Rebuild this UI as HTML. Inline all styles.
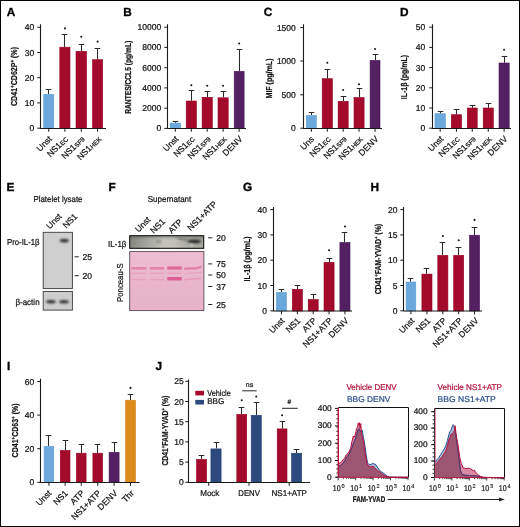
<!DOCTYPE html>
<html><head><meta charset="utf-8"><style>
html,body{margin:0;padding:0;background:#fff;}
body{width:520px;height:527px;overflow:hidden;}
svg{display:block;font-family:"Liberation Sans", sans-serif;will-change:transform;text-rendering:geometricPrecision;} text{stroke:#111;stroke-width:0.22px;} text.r{stroke:#b0123a} text.b{stroke:#2c4c8c} text.nb{stroke:none}
</style></head><body>
<svg width="520" height="527" viewBox="0 0 520 527">
<rect x="0" y="0" width="520" height="527" fill="#fff"/>
<text x="6.8" y="16" font-size="11.8" font-weight="bold" fill="#000" style="stroke:#000;stroke-width:0.35px">A</text>
<path d="M37.3 128.2H40.5" stroke="#1a1a1a" stroke-width="1"/>
<text x="34.2" y="131.2" font-size="8.5" text-anchor="end" fill="#111" font-weight="normal" >0</text>
<path d="M37.3 102.9H40.5" stroke="#1a1a1a" stroke-width="1"/>
<text x="34.2" y="105.9" font-size="8.5" text-anchor="end" fill="#111" font-weight="normal" >10</text>
<path d="M37.3 77.7H40.5" stroke="#1a1a1a" stroke-width="1"/>
<text x="34.2" y="80.7" font-size="8.5" text-anchor="end" fill="#111" font-weight="normal" >20</text>
<path d="M37.3 52.5H40.5" stroke="#1a1a1a" stroke-width="1"/>
<text x="34.2" y="55.5" font-size="8.5" text-anchor="end" fill="#111" font-weight="normal" >30</text>
<path d="M37.3 27.3H40.5" stroke="#1a1a1a" stroke-width="1"/>
<text x="34.2" y="30.3" font-size="8.5" text-anchor="end" fill="#111" font-weight="normal" >40</text>
<path d="M48.5 94.0V89.5M45.7 89.5H51.3" stroke="#2a2a2a" stroke-width="1.05" fill="none"/>
<rect x="43.699999999999996" y="94.3" width="10.100000000000003" height="34.2" fill="#6ba8dc" stroke="#5d9cd4" stroke-width="0.6"/>
<path d="M64.5 46.9V34.5M61.7 34.5H67.3" stroke="#2a2a2a" stroke-width="1.05" fill="none"/>
<rect x="59.8" y="47.199999999999996" width="10.199999999999998" height="81.3" fill="#a30a2b" stroke="#980022" stroke-width="0.6"/>
<circle cx="64.9" cy="28.400000000000002" r="1.05" fill="#1a1a1a"/>
<path d="M81.5 51.0V44.5M78.7 44.5H84.3" stroke="#2a2a2a" stroke-width="1.05" fill="none"/>
<rect x="76.0" y="51.3" width="10.499999999999995" height="77.2" fill="#a30a2b" stroke="#980022" stroke-width="0.6"/>
<circle cx="81.25" cy="36.699999999999996" r="1.05" fill="#1a1a1a"/>
<path d="M97.5 59.4V48.5M94.7 48.5H100.3" stroke="#2a2a2a" stroke-width="1.05" fill="none"/>
<rect x="92.5" y="59.699999999999996" width="10.199999999999998" height="68.8" fill="#a30a2b" stroke="#980022" stroke-width="0.6"/>
<circle cx="97.6" cy="41.599999999999994" r="1.05" fill="#1a1a1a"/>
<path d="M40.5 24.3V128.5H106" stroke="#1a1a1a" stroke-width="1.1" fill="none"/>
<path d="M48.75 128.5V131.8" stroke="#1a1a1a" stroke-width="1"/>
<path d="M64.9 128.5V131.8" stroke="#1a1a1a" stroke-width="1"/>
<path d="M81.25 128.5V131.8" stroke="#1a1a1a" stroke-width="1"/>
<path d="M97.6 128.5V131.8" stroke="#1a1a1a" stroke-width="1"/>
<text transform="translate(52.5 139.5) rotate(-45)" font-size="8.6" text-anchor="end" fill="#111">Unst</text>
<text transform="translate(68.5 139.5) rotate(-45)" font-size="8.6" text-anchor="end" fill="#111">NS1<tspan font-size="6.4" dy="0.3">EC</tspan></text>
<text transform="translate(85 139.5) rotate(-45)" font-size="8.6" text-anchor="end" fill="#111">NS1<tspan font-size="6.4" dy="0.3">SF9</tspan></text>
<text transform="translate(101.5 139.5) rotate(-45)" font-size="8.6" text-anchor="end" fill="#111">NS1<tspan font-size="6.4" dy="0.3">HEK</tspan></text>
<text transform="translate(17.4 76.5) rotate(-90)" font-size="8.6" font-weight="bold" text-anchor="middle" fill="#111" textLength="59" lengthAdjust="spacingAndGlyphs">CD41<tspan font-size="5.4" baseline-shift="2.6">+</tspan>CD62P<tspan font-size="5.4" baseline-shift="2.6">+</tspan> (%)</text>
<text x="123.3" y="16" font-size="11.8" font-weight="bold" fill="#000" style="stroke:#000;stroke-width:0.35px">B</text>
<path d="M164.3 128.4H167.5" stroke="#1a1a1a" stroke-width="1"/>
<text x="161.2" y="131.4" font-size="8.5" text-anchor="end" fill="#111" font-weight="normal" >0</text>
<path d="M164.3 108.2H167.5" stroke="#1a1a1a" stroke-width="1"/>
<text x="161.2" y="111.2" font-size="8.5" text-anchor="end" fill="#111" font-weight="normal" >2000</text>
<path d="M164.3 87.9H167.5" stroke="#1a1a1a" stroke-width="1"/>
<text x="161.2" y="90.9" font-size="8.5" text-anchor="end" fill="#111" font-weight="normal" >4000</text>
<path d="M164.3 67.7H167.5" stroke="#1a1a1a" stroke-width="1"/>
<text x="161.2" y="70.7" font-size="8.5" text-anchor="end" fill="#111" font-weight="normal" >6000</text>
<path d="M164.3 47.4H167.5" stroke="#1a1a1a" stroke-width="1"/>
<text x="161.2" y="50.4" font-size="8.5" text-anchor="end" fill="#111" font-weight="normal" >8000</text>
<path d="M164.3 27.2H167.5" stroke="#1a1a1a" stroke-width="1"/>
<text x="161.2" y="30.2" font-size="8.5" text-anchor="end" fill="#111" font-weight="normal" >10000</text>
<path d="M175.5 122.8V121.5M172.7 121.5H178.3" stroke="#2a2a2a" stroke-width="1.05" fill="none"/>
<rect x="170.10000000000002" y="123.1" width="10.4" height="5.400000000000003" fill="#6ba8dc" stroke="#5d9cd4" stroke-width="0.6"/>
<path d="M191.5 100.7V90.5M188.7 90.5H194.3" stroke="#2a2a2a" stroke-width="1.05" fill="none"/>
<rect x="186.20000000000002" y="101.0" width="10.199999999999983" height="27.499999999999996" fill="#a30a2b" stroke="#980022" stroke-width="0.6"/>
<circle cx="191.3" cy="85.3" r="1.05" fill="#1a1a1a"/>
<path d="M207.5 97.0V91.5M204.7 91.5H210.3" stroke="#2a2a2a" stroke-width="1.05" fill="none"/>
<rect x="202.10000000000002" y="97.3" width="10.199999999999983" height="31.2" fill="#a30a2b" stroke="#980022" stroke-width="0.6"/>
<circle cx="207.2" cy="85.8" r="1.05" fill="#1a1a1a"/>
<path d="M223.5 97.5V91.5M220.7 91.5H226.3" stroke="#2a2a2a" stroke-width="1.05" fill="none"/>
<rect x="218.0" y="97.8" width="10.200000000000012" height="30.7" fill="#a30a2b" stroke="#980022" stroke-width="0.6"/>
<circle cx="223.1" cy="85.8" r="1.05" fill="#1a1a1a"/>
<path d="M239.5 71.0V49.5M236.7 49.5H242.3" stroke="#2a2a2a" stroke-width="1.05" fill="none"/>
<rect x="234.20000000000002" y="71.3" width="9.9" height="57.2" fill="#532062" stroke="#4a1858" stroke-width="0.6"/>
<circle cx="239.15" cy="43.5" r="1.05" fill="#1a1a1a"/>
<path d="M167.5 24.2V128.5H246" stroke="#1a1a1a" stroke-width="1.1" fill="none"/>
<path d="M175.3 128.5V131.8" stroke="#1a1a1a" stroke-width="1"/>
<path d="M191.3 128.5V131.8" stroke="#1a1a1a" stroke-width="1"/>
<path d="M207.2 128.5V131.8" stroke="#1a1a1a" stroke-width="1"/>
<path d="M223.1 128.5V131.8" stroke="#1a1a1a" stroke-width="1"/>
<path d="M239.15 128.5V131.8" stroke="#1a1a1a" stroke-width="1"/>
<text transform="translate(179 139.5) rotate(-45)" font-size="8.6" text-anchor="end" fill="#111">Unst</text>
<text transform="translate(195 139.5) rotate(-45)" font-size="8.6" text-anchor="end" fill="#111">NS1<tspan font-size="6.4" dy="0.3">EC</tspan></text>
<text transform="translate(211 139.5) rotate(-45)" font-size="8.6" text-anchor="end" fill="#111">NS1<tspan font-size="6.4" dy="0.3">SF9</tspan></text>
<text transform="translate(227 139.5) rotate(-45)" font-size="8.6" text-anchor="end" fill="#111">NS1<tspan font-size="6.4" dy="0.3">HEK</tspan></text>
<text transform="translate(243 139.5) rotate(-45)" font-size="8.6" text-anchor="end" fill="#111">DENV</text>
<text transform="translate(131.0 77.3) rotate(-90)" font-size="8.6" font-weight="bold" text-anchor="middle" fill="#111" textLength="73" lengthAdjust="spacingAndGlyphs">RANTES/CCL5 (pg/mL)</text>
<text x="263.8" y="16" font-size="11.8" font-weight="bold" fill="#000" style="stroke:#000;stroke-width:0.35px">C</text>
<path d="M300.3 128.2H303.5" stroke="#1a1a1a" stroke-width="1"/>
<text x="295.8" y="131.2" font-size="8.5" text-anchor="end" fill="#111" font-weight="normal" >0</text>
<path d="M300.3 94.8H303.5" stroke="#1a1a1a" stroke-width="1"/>
<text x="295.8" y="97.8" font-size="8.5" text-anchor="end" fill="#111" font-weight="normal" >500</text>
<path d="M300.3 61.0H303.5" stroke="#1a1a1a" stroke-width="1"/>
<text x="295.8" y="64.0" font-size="8.5" text-anchor="end" fill="#111" font-weight="normal" >1000</text>
<path d="M300.3 27.6H303.5" stroke="#1a1a1a" stroke-width="1"/>
<text x="295.8" y="30.6" font-size="8.5" text-anchor="end" fill="#111" font-weight="normal" >1500</text>
<path d="M311.5 115.2V112.5M308.7 112.5H314.3" stroke="#2a2a2a" stroke-width="1.05" fill="none"/>
<rect x="306.40000000000003" y="115.5" width="9.9" height="12.999999999999996" fill="#6ba8dc" stroke="#5d9cd4" stroke-width="0.6"/>
<path d="M327.5 78.4V69.5M324.7 69.5H330.3" stroke="#2a2a2a" stroke-width="1.05" fill="none"/>
<rect x="322.2" y="78.7" width="10.200000000000012" height="49.8" fill="#a30a2b" stroke="#980022" stroke-width="0.6"/>
<circle cx="327.29999999999995" cy="62.8" r="1.05" fill="#1a1a1a"/>
<path d="M343.5 101.0V96.5M340.7 96.5H346.3" stroke="#2a2a2a" stroke-width="1.05" fill="none"/>
<rect x="338.1" y="101.3" width="10.099999999999989" height="27.2" fill="#a30a2b" stroke="#980022" stroke-width="0.6"/>
<circle cx="343.15" cy="90.0" r="1.05" fill="#1a1a1a"/>
<path d="M359.5 97.2V88.5M356.7 88.5H362.3" stroke="#2a2a2a" stroke-width="1.05" fill="none"/>
<rect x="354.0" y="97.5" width="10.099999999999989" height="30.999999999999996" fill="#a30a2b" stroke="#980022" stroke-width="0.6"/>
<circle cx="359.04999999999995" cy="84.3" r="1.05" fill="#1a1a1a"/>
<path d="M375.5 60.0V54.5M372.7 54.5H378.3" stroke="#2a2a2a" stroke-width="1.05" fill="none"/>
<rect x="370.1" y="60.3" width="9.9" height="68.2" fill="#532062" stroke="#4a1858" stroke-width="0.6"/>
<circle cx="375.05" cy="49.0" r="1.05" fill="#1a1a1a"/>
<path d="M303.5 24.2V128.5H382" stroke="#1a1a1a" stroke-width="1.1" fill="none"/>
<path d="M311.35 128.5V131.8" stroke="#1a1a1a" stroke-width="1"/>
<path d="M327.29999999999995 128.5V131.8" stroke="#1a1a1a" stroke-width="1"/>
<path d="M343.15 128.5V131.8" stroke="#1a1a1a" stroke-width="1"/>
<path d="M359.04999999999995 128.5V131.8" stroke="#1a1a1a" stroke-width="1"/>
<path d="M375.05 128.5V131.8" stroke="#1a1a1a" stroke-width="1"/>
<text transform="translate(314.6 139.8) rotate(-45)" font-size="8.6" text-anchor="end" fill="#111">Uns</text>
<text transform="translate(331 139.5) rotate(-45)" font-size="8.6" text-anchor="end" fill="#111">NS1<tspan font-size="6.4" dy="0.3">EC</tspan></text>
<text transform="translate(347 139.5) rotate(-45)" font-size="8.6" text-anchor="end" fill="#111">NS1<tspan font-size="6.4" dy="0.3">SF9</tspan></text>
<text transform="translate(363 139.5) rotate(-45)" font-size="8.6" text-anchor="end" fill="#111">NS1<tspan font-size="6.4" dy="0.3">HEK</tspan></text>
<text transform="translate(379 139.5) rotate(-45)" font-size="8.6" text-anchor="end" fill="#111">DENV</text>
<text transform="translate(271.7 78.5) rotate(-90)" font-size="8.6" font-weight="bold" text-anchor="middle" fill="#111" textLength="40" lengthAdjust="spacingAndGlyphs">MIF (pg/mL)</text>
<text x="400" y="16" font-size="11.8" font-weight="bold" fill="#000" style="stroke:#000;stroke-width:0.35px">D</text>
<path d="M429.3 128.2H432.5" stroke="#1a1a1a" stroke-width="1"/>
<text x="425.3" y="131.2" font-size="8.5" text-anchor="end" fill="#111" font-weight="normal" >0</text>
<path d="M429.3 108.0H432.5" stroke="#1a1a1a" stroke-width="1"/>
<text x="425.3" y="111.0" font-size="8.5" text-anchor="end" fill="#111" font-weight="normal" >10</text>
<path d="M429.3 87.8H432.5" stroke="#1a1a1a" stroke-width="1"/>
<text x="425.3" y="90.8" font-size="8.5" text-anchor="end" fill="#111" font-weight="normal" >20</text>
<path d="M429.3 67.6H432.5" stroke="#1a1a1a" stroke-width="1"/>
<text x="425.3" y="70.6" font-size="8.5" text-anchor="end" fill="#111" font-weight="normal" >30</text>
<path d="M429.3 47.4H432.5" stroke="#1a1a1a" stroke-width="1"/>
<text x="425.3" y="50.4" font-size="8.5" text-anchor="end" fill="#111" font-weight="normal" >40</text>
<path d="M429.3 27.2H432.5" stroke="#1a1a1a" stroke-width="1"/>
<text x="425.3" y="30.2" font-size="8.5" text-anchor="end" fill="#111" font-weight="normal" >50</text>
<path d="M440.5 113.4V111.5M437.7 111.5H443.3" stroke="#2a2a2a" stroke-width="1.05" fill="none"/>
<rect x="435.0" y="113.7" width="10.4" height="14.799999999999994" fill="#6ba8dc" stroke="#5d9cd4" stroke-width="0.6"/>
<path d="M456.5 114.4V109.5M453.7 109.5H459.3" stroke="#2a2a2a" stroke-width="1.05" fill="none"/>
<rect x="451.3" y="114.7" width="10.299999999999978" height="13.799999999999994" fill="#a30a2b" stroke="#980022" stroke-width="0.6"/>
<path d="M472.5 107.7V105.5M469.7 105.5H475.3" stroke="#2a2a2a" stroke-width="1.05" fill="none"/>
<rect x="467.3" y="108.0" width="9.9" height="20.499999999999996" fill="#a30a2b" stroke="#980022" stroke-width="0.6"/>
<path d="M488.5 107.7V103.5M485.7 103.5H491.3" stroke="#2a2a2a" stroke-width="1.05" fill="none"/>
<rect x="483.2" y="108.0" width="10.100000000000046" height="20.499999999999996" fill="#a30a2b" stroke="#980022" stroke-width="0.6"/>
<path d="M504.5 62.7V56.5M501.7 56.5H507.3" stroke="#2a2a2a" stroke-width="1.05" fill="none"/>
<rect x="499.0" y="63.0" width="10.200000000000012" height="65.5" fill="#532062" stroke="#4a1858" stroke-width="0.6"/>
<circle cx="504.1" cy="49.8" r="1.05" fill="#1a1a1a"/>
<path d="M432.5 24.2V128.5H511" stroke="#1a1a1a" stroke-width="1.1" fill="none"/>
<path d="M440.2 128.5V131.8" stroke="#1a1a1a" stroke-width="1"/>
<path d="M456.45 128.5V131.8" stroke="#1a1a1a" stroke-width="1"/>
<path d="M472.25 128.5V131.8" stroke="#1a1a1a" stroke-width="1"/>
<path d="M488.25 128.5V131.8" stroke="#1a1a1a" stroke-width="1"/>
<path d="M504.1 128.5V131.8" stroke="#1a1a1a" stroke-width="1"/>
<text transform="translate(444 139.5) rotate(-45)" font-size="8.6" text-anchor="end" fill="#111">Unst</text>
<text transform="translate(460 139.5) rotate(-45)" font-size="8.6" text-anchor="end" fill="#111">NS1<tspan font-size="6.4" dy="0.3">EC</tspan></text>
<text transform="translate(476 139.5) rotate(-45)" font-size="8.6" text-anchor="end" fill="#111">NS1<tspan font-size="6.4" dy="0.3">SF9</tspan></text>
<text transform="translate(492 139.5) rotate(-45)" font-size="8.6" text-anchor="end" fill="#111">NS1<tspan font-size="6.4" dy="0.3">HEK</tspan></text>
<text transform="translate(508 139.5) rotate(-45)" font-size="8.6" text-anchor="end" fill="#111">DENV</text>
<text transform="translate(407.4 77.1) rotate(-90)" font-size="8.6" font-weight="bold" text-anchor="middle" fill="#111" textLength="44.4" lengthAdjust="spacingAndGlyphs">IL-1β (pg/mL)</text>
<text x="243" y="190.6" font-size="11.8" font-weight="bold" fill="#000" style="stroke:#000;stroke-width:0.35px">G</text>
<path d="M270.3 310.8H273.5" stroke="#1a1a1a" stroke-width="1"/>
<text x="266.9" y="313.8" font-size="8.5" text-anchor="end" fill="#111" font-weight="normal" >0</text>
<path d="M270.3 285.5H273.5" stroke="#1a1a1a" stroke-width="1"/>
<text x="266.9" y="288.5" font-size="8.5" text-anchor="end" fill="#111" font-weight="normal" >10</text>
<path d="M270.3 260.2H273.5" stroke="#1a1a1a" stroke-width="1"/>
<text x="266.9" y="263.2" font-size="8.5" text-anchor="end" fill="#111" font-weight="normal" >20</text>
<path d="M270.3 234.9H273.5" stroke="#1a1a1a" stroke-width="1"/>
<text x="266.9" y="237.9" font-size="8.5" text-anchor="end" fill="#111" font-weight="normal" >30</text>
<path d="M270.3 209.6H273.5" stroke="#1a1a1a" stroke-width="1"/>
<text x="266.9" y="212.6" font-size="8.5" text-anchor="end" fill="#111" font-weight="normal" >40</text>
<path d="M281.5 292.0V289.5M278.7 289.5H284.3" stroke="#2a2a2a" stroke-width="1.05" fill="none"/>
<rect x="276.40000000000003" y="292.3" width="10.099999999999989" height="18.7" fill="#6ba8dc" stroke="#5d9cd4" stroke-width="0.6"/>
<path d="M297.5 289.0V285.5M294.7 285.5H300.3" stroke="#2a2a2a" stroke-width="1.05" fill="none"/>
<rect x="292.3" y="289.3" width="10.099999999999989" height="21.7" fill="#a30a2b" stroke="#980022" stroke-width="0.6"/>
<path d="M313.5 299.2V294.5M310.7 294.5H316.3" stroke="#2a2a2a" stroke-width="1.05" fill="none"/>
<rect x="308.2" y="299.5" width="10.000000000000023" height="11.50000000000001" fill="#a30a2b" stroke="#980022" stroke-width="0.6"/>
<path d="M329.5 262.0V258.5M326.7 258.5H332.3" stroke="#2a2a2a" stroke-width="1.05" fill="none"/>
<rect x="324.0" y="262.3" width="10.099999999999989" height="48.7" fill="#a30a2b" stroke="#980022" stroke-width="0.6"/>
<circle cx="329.04999999999995" cy="250.20000000000002" r="1.05" fill="#1a1a1a"/>
<path d="M344.5 242.1V232.5M341.7 232.5H347.3" stroke="#2a2a2a" stroke-width="1.05" fill="none"/>
<rect x="339.90000000000003" y="242.4" width="10.099999999999989" height="68.60000000000001" fill="#532062" stroke="#4a1858" stroke-width="0.6"/>
<circle cx="344.95000000000005" cy="226.5" r="1.05" fill="#1a1a1a"/>
<path d="M273.5 206.9V311.0H352" stroke="#1a1a1a" stroke-width="1.1" fill="none"/>
<path d="M281.45000000000005 311.0V314.3" stroke="#1a1a1a" stroke-width="1"/>
<path d="M297.35 311.0V314.3" stroke="#1a1a1a" stroke-width="1"/>
<path d="M313.2 311.0V314.3" stroke="#1a1a1a" stroke-width="1"/>
<path d="M329.04999999999995 311.0V314.3" stroke="#1a1a1a" stroke-width="1"/>
<path d="M344.95000000000005 311.0V314.3" stroke="#1a1a1a" stroke-width="1"/>
<text transform="translate(285 321.3) rotate(-45)" font-size="8.6" text-anchor="end" fill="#111">Unst</text>
<text transform="translate(301 321.3) rotate(-45)" font-size="8.6" text-anchor="end" fill="#111">NS1</text>
<text transform="translate(317 321.3) rotate(-45)" font-size="8.6" text-anchor="end" fill="#111">ATP</text>
<text transform="translate(333 321.3) rotate(-45)" font-size="8.6" text-anchor="end" fill="#111">NS1+ATP</text>
<text transform="translate(349 321.3) rotate(-45)" font-size="8.6" text-anchor="end" fill="#111">DENV</text>
<text transform="translate(250.0 258.9) rotate(-90)" font-size="8.6" font-weight="bold" text-anchor="middle" fill="#111" textLength="45" lengthAdjust="spacingAndGlyphs">IL-1β (pg/mL)</text>
<text x="370.5" y="190.6" font-size="11.8" font-weight="bold" fill="#000" style="stroke:#000;stroke-width:0.35px">H</text>
<path d="M400.3 310.8H403.5" stroke="#1a1a1a" stroke-width="1"/>
<text x="397.4" y="313.8" font-size="8.5" text-anchor="end" fill="#111" font-weight="normal" >0</text>
<path d="M400.3 285.5H403.5" stroke="#1a1a1a" stroke-width="1"/>
<text x="397.4" y="288.5" font-size="8.5" text-anchor="end" fill="#111" font-weight="normal" >5</text>
<path d="M400.3 260.2H403.5" stroke="#1a1a1a" stroke-width="1"/>
<text x="397.4" y="263.2" font-size="8.5" text-anchor="end" fill="#111" font-weight="normal" >10</text>
<path d="M400.3 234.9H403.5" stroke="#1a1a1a" stroke-width="1"/>
<text x="397.4" y="237.9" font-size="8.5" text-anchor="end" fill="#111" font-weight="normal" >15</text>
<path d="M400.3 209.6H403.5" stroke="#1a1a1a" stroke-width="1"/>
<text x="397.4" y="212.6" font-size="8.5" text-anchor="end" fill="#111" font-weight="normal" >20</text>
<path d="M410.5 281.7V278.5M407.7 278.5H413.3" stroke="#2a2a2a" stroke-width="1.05" fill="none"/>
<rect x="406.1" y="282.0" width="9.700000000000012" height="29.00000000000001" fill="#6ba8dc" stroke="#5d9cd4" stroke-width="0.6"/>
<path d="M426.5 273.8V268.5M423.7 268.5H429.3" stroke="#2a2a2a" stroke-width="1.05" fill="none"/>
<rect x="421.90000000000003" y="274.1" width="10.099999999999989" height="36.89999999999999" fill="#a30a2b" stroke="#980022" stroke-width="0.6"/>
<path d="M442.5 255.1V242.5M439.7 242.5H445.3" stroke="#2a2a2a" stroke-width="1.05" fill="none"/>
<rect x="437.8" y="255.4" width="10.099999999999989" height="55.60000000000001" fill="#a30a2b" stroke="#980022" stroke-width="0.6"/>
<circle cx="442.85" cy="236.10000000000002" r="1.05" fill="#1a1a1a"/>
<path d="M458.5 255.1V247.5M455.7 247.5H461.3" stroke="#2a2a2a" stroke-width="1.05" fill="none"/>
<rect x="453.7" y="255.4" width="10.000000000000023" height="55.60000000000001" fill="#a30a2b" stroke="#980022" stroke-width="0.6"/>
<circle cx="458.7" cy="240.3" r="1.05" fill="#1a1a1a"/>
<path d="M474.5 234.9V227.5M471.7 227.5H477.3" stroke="#2a2a2a" stroke-width="1.05" fill="none"/>
<rect x="469.5" y="235.20000000000002" width="10.099999999999989" height="75.8" fill="#532062" stroke="#4a1858" stroke-width="0.6"/>
<circle cx="474.54999999999995" cy="219.9" r="1.05" fill="#1a1a1a"/>
<path d="M403.5 206.9V311.0H482" stroke="#1a1a1a" stroke-width="1.1" fill="none"/>
<path d="M410.95000000000005 311.0V314.3" stroke="#1a1a1a" stroke-width="1"/>
<path d="M426.95000000000005 311.0V314.3" stroke="#1a1a1a" stroke-width="1"/>
<path d="M442.85 311.0V314.3" stroke="#1a1a1a" stroke-width="1"/>
<path d="M458.7 311.0V314.3" stroke="#1a1a1a" stroke-width="1"/>
<path d="M474.54999999999995 311.0V314.3" stroke="#1a1a1a" stroke-width="1"/>
<text transform="translate(415 321.3) rotate(-45)" font-size="8.6" text-anchor="end" fill="#111">Unst</text>
<text transform="translate(431 321.3) rotate(-45)" font-size="8.6" text-anchor="end" fill="#111">NS1</text>
<text transform="translate(447 321.3) rotate(-45)" font-size="8.6" text-anchor="end" fill="#111">ATP</text>
<text transform="translate(463 321.3) rotate(-45)" font-size="8.6" text-anchor="end" fill="#111">NS1+ATP</text>
<text transform="translate(479 321.3) rotate(-45)" font-size="8.6" text-anchor="end" fill="#111">DENV</text>
<text transform="translate(381.0 259.1) rotate(-90)" font-size="8.6" font-weight="bold" text-anchor="middle" fill="#111" textLength="70.5" lengthAdjust="spacingAndGlyphs">CD41<tspan font-size="5.4" baseline-shift="2.6">+</tspan>FAM-YVAD<tspan font-size="5.4" baseline-shift="2.6">+</tspan> (%)</text>
<text x="7" y="370" font-size="11.8" font-weight="bold" fill="#000" style="stroke:#000;stroke-width:0.35px">I</text>
<path d="M37.3 482.3H40.5" stroke="#1a1a1a" stroke-width="1"/>
<text x="34.2" y="485.3" font-size="8.5" text-anchor="end" fill="#111" font-weight="normal" >0</text>
<path d="M37.3 448.7H40.5" stroke="#1a1a1a" stroke-width="1"/>
<text x="34.2" y="451.7" font-size="8.5" text-anchor="end" fill="#111" font-weight="normal" >20</text>
<path d="M37.3 415.1H40.5" stroke="#1a1a1a" stroke-width="1"/>
<text x="34.2" y="418.1" font-size="8.5" text-anchor="end" fill="#111" font-weight="normal" >40</text>
<path d="M37.3 381.5H40.5" stroke="#1a1a1a" stroke-width="1"/>
<text x="34.2" y="384.5" font-size="8.5" text-anchor="end" fill="#111" font-weight="normal" >60</text>
<path d="M48.5 446.2V435.5M45.7 435.5H51.3" stroke="#2a2a2a" stroke-width="1.05" fill="none"/>
<rect x="44.099999999999994" y="446.5" width="9.700000000000005" height="36.000000000000014" fill="#6ba8dc" stroke="#5d9cd4" stroke-width="0.6"/>
<path d="M65.5 450.1V440.5M62.7 440.5H68.3" stroke="#2a2a2a" stroke-width="1.05" fill="none"/>
<rect x="60.3" y="450.40000000000003" width="9.699999999999998" height="32.09999999999998" fill="#a30a2b" stroke="#980022" stroke-width="0.6"/>
<path d="M81.5 452.9V444.5M78.7 444.5H84.3" stroke="#2a2a2a" stroke-width="1.05" fill="none"/>
<rect x="76.39999999999999" y="453.2" width="9.700000000000012" height="29.300000000000022" fill="#a30a2b" stroke="#980022" stroke-width="0.6"/>
<path d="M97.5 452.9V444.5M94.7 444.5H100.3" stroke="#2a2a2a" stroke-width="1.05" fill="none"/>
<rect x="92.89999999999999" y="453.2" width="9.700000000000012" height="29.300000000000022" fill="#a30a2b" stroke="#980022" stroke-width="0.6"/>
<path d="M114.5 452.0V442.5M111.7 442.5H117.3" stroke="#2a2a2a" stroke-width="1.05" fill="none"/>
<rect x="109.1" y="452.3" width="10.000000000000009" height="30.2" fill="#532062" stroke="#4a1858" stroke-width="0.6"/>
<path d="M130.5 399.9V394.5M127.7 394.5H133.3" stroke="#2a2a2a" stroke-width="1.05" fill="none"/>
<rect x="125.5" y="400.2" width="10.000000000000009" height="82.30000000000003" fill="#dc8a1a" stroke="#d4801a" stroke-width="0.6"/>
<circle cx="130.5" cy="387.90000000000003" r="1.05" fill="#1a1a1a"/>
<path d="M40.5 378.7V482.5H139.5" stroke="#1a1a1a" stroke-width="1.1" fill="none"/>
<path d="M48.95 482.5V485.8" stroke="#1a1a1a" stroke-width="1"/>
<path d="M65.15 482.5V485.8" stroke="#1a1a1a" stroke-width="1"/>
<path d="M81.25 482.5V485.8" stroke="#1a1a1a" stroke-width="1"/>
<path d="M97.75 482.5V485.8" stroke="#1a1a1a" stroke-width="1"/>
<path d="M114.1 482.5V485.8" stroke="#1a1a1a" stroke-width="1"/>
<path d="M130.5 482.5V485.8" stroke="#1a1a1a" stroke-width="1"/>
<text transform="translate(52 493.8) rotate(-45)" font-size="8.6" text-anchor="end" fill="#111">Unst</text>
<text transform="translate(68.5 493.8) rotate(-45)" font-size="8.6" text-anchor="end" fill="#111">NS1</text>
<text transform="translate(85 493.8) rotate(-45)" font-size="8.6" text-anchor="end" fill="#111">ATP</text>
<text transform="translate(101.5 493.8) rotate(-45)" font-size="8.6" text-anchor="end" fill="#111">NS1+ATP</text>
<text transform="translate(118 493.8) rotate(-45)" font-size="8.6" text-anchor="end" fill="#111">DENV</text>
<text transform="translate(134.5 493.8) rotate(-45)" font-size="8.6" text-anchor="end" fill="#111">Thr</text>
<text transform="translate(17.9 430.4) rotate(-90)" font-size="8.6" font-weight="bold" text-anchor="middle" fill="#111" textLength="54" lengthAdjust="spacingAndGlyphs">CD41<tspan font-size="5.4" baseline-shift="2.6">+</tspan>CD63<tspan font-size="5.4" baseline-shift="2.6">+</tspan> (%)</text>
<text x="155.5" y="370" font-size="11.8" font-weight="bold" fill="#000" style="stroke:#000;stroke-width:0.35px">J</text>
<path d="M185.3 482.3H188.5" stroke="#1a1a1a" stroke-width="1"/>
<text x="183.7" y="485.3" font-size="8.5" text-anchor="end" fill="#111" font-weight="normal" >0</text>
<path d="M185.3 462.1H188.5" stroke="#1a1a1a" stroke-width="1"/>
<text x="183.7" y="465.1" font-size="8.5" text-anchor="end" fill="#111" font-weight="normal" >5</text>
<path d="M185.3 441.9H188.5" stroke="#1a1a1a" stroke-width="1"/>
<text x="183.7" y="444.9" font-size="8.5" text-anchor="end" fill="#111" font-weight="normal" >10</text>
<path d="M185.3 421.7H188.5" stroke="#1a1a1a" stroke-width="1"/>
<text x="183.7" y="424.7" font-size="8.5" text-anchor="end" fill="#111" font-weight="normal" >15</text>
<path d="M185.3 401.5H188.5" stroke="#1a1a1a" stroke-width="1"/>
<text x="183.7" y="404.5" font-size="8.5" text-anchor="end" fill="#111" font-weight="normal" >20</text>
<path d="M185.3 381.3H188.5" stroke="#1a1a1a" stroke-width="1"/>
<text x="183.7" y="384.3" font-size="8.5" text-anchor="end" fill="#111" font-weight="normal" >25</text>
<path d="M201.5 459.1V455.5M198.7 455.5H204.3" stroke="#2a2a2a" stroke-width="1.05" fill="none"/>
<rect x="196.5" y="459.40000000000003" width="10.100000000000017" height="23.099999999999977" fill="#a30a2b" stroke="#980022" stroke-width="0.6"/>
<path d="M216.5 448.6V442.5M213.7 442.5H219.3" stroke="#2a2a2a" stroke-width="1.05" fill="none"/>
<rect x="210.9" y="448.90000000000003" width="10.200000000000012" height="33.59999999999998" fill="#2d4a7e" stroke="#27427a" stroke-width="0.6"/>
<path d="M241.5 414.1V407.5M238.7 407.5H244.3" stroke="#2a2a2a" stroke-width="1.05" fill="none"/>
<rect x="236.8" y="414.40000000000003" width="9.9" height="68.09999999999998" fill="#a30a2b" stroke="#980022" stroke-width="0.6"/>
<circle cx="241.75" cy="400.3" r="1.05" fill="#1a1a1a"/>
<path d="M256.5 415.0V402.5M253.7 402.5H259.3" stroke="#2a2a2a" stroke-width="1.05" fill="none"/>
<rect x="251.20000000000002" y="415.3" width="10.100000000000017" height="67.2" fill="#2d4a7e" stroke="#27427a" stroke-width="0.6"/>
<circle cx="256.25" cy="396.5" r="1.05" fill="#1a1a1a"/>
<path d="M282.5 428.6V421.5M279.7 421.5H285.3" stroke="#2a2a2a" stroke-width="1.05" fill="none"/>
<rect x="277.2" y="428.90000000000003" width="9.800000000000034" height="53.59999999999998" fill="#a30a2b" stroke="#980022" stroke-width="0.6"/>
<circle cx="282.1" cy="415.3" r="1.05" fill="#1a1a1a"/>
<path d="M296.5 452.9V449.5M293.7 449.5H299.3" stroke="#2a2a2a" stroke-width="1.05" fill="none"/>
<rect x="291.5" y="453.2" width="10.200000000000012" height="29.300000000000022" fill="#2d4a7e" stroke="#27427a" stroke-width="0.6"/>
<path d="M188.5 379.5V482.5H310" stroke="#1a1a1a" stroke-width="1.1" fill="none"/>
<path d="M208.7 482.5V485.8" stroke="#1a1a1a" stroke-width="1"/>
<path d="M249.0 482.5V485.8" stroke="#1a1a1a" stroke-width="1"/>
<path d="M289.2 482.5V485.8" stroke="#1a1a1a" stroke-width="1"/>
<text transform="translate(167.5 430.6) rotate(-90)" font-size="8.6" font-weight="bold" text-anchor="middle" fill="#111" textLength="70" lengthAdjust="spacingAndGlyphs">CD41<tspan font-size="5.4" baseline-shift="2.6">+</tspan>FAM-YVAD<tspan font-size="5.4" baseline-shift="2.6">+</tspan> (%)</text>
<text x="209.8" y="495.9" font-size="8.4" text-anchor="middle" fill="#111" font-weight="normal" textLength="19.2" lengthAdjust="spacingAndGlyphs" >Mock</text>
<text x="249.1" y="495.9" font-size="8.4" text-anchor="middle" fill="#111" font-weight="normal" textLength="21.6" lengthAdjust="spacingAndGlyphs" >DENV</text>
<text x="289.2" y="495.9" font-size="8.4" text-anchor="middle" fill="#111" font-weight="normal" textLength="35.6" lengthAdjust="spacingAndGlyphs" >NS1+ATP</text>
<rect x="195.3" y="390.8" width="8.7" height="4.6" fill="#a30a2b"/>
<rect x="195.3" y="399.9" width="8.7" height="4.6" fill="#2d4a7e"/>
<text x="207.2" y="395.7" font-size="8.4" text-anchor="start" fill="#111" font-weight="normal" textLength="23.6" lengthAdjust="spacingAndGlyphs" >Vehicle</text>
<text x="207.2" y="404.3" font-size="8.4" text-anchor="start" fill="#111" font-weight="normal" textLength="17.2" lengthAdjust="spacingAndGlyphs" >BBG</text>
<path d="M242.3 390.8H256.7M282.1 408.3H297.6" stroke="#222" stroke-width="1"/>
<text x="249.5" y="387" font-size="7" text-anchor="middle" fill="#111" font-weight="normal" >ns</text>
<text x="289.3" y="403.8" font-size="6.5" text-anchor="middle" fill="#111" font-weight="normal" >#</text>
<text x="6.6" y="190.6" font-size="11.8" font-weight="bold" fill="#000" style="stroke:#000;stroke-width:0.35px">E</text>
<text x="58" y="201.9" font-size="8.6" text-anchor="middle" fill="#111" font-weight="normal" textLength="49" lengthAdjust="spacingAndGlyphs" >Platelet lysate</text>
<text transform="translate(62.3 217) rotate(-45)" font-size="8.6" text-anchor="end" fill="#111">Unst</text>
<text transform="translate(78.0 217) rotate(-45)" font-size="8.6" text-anchor="end" fill="#111">NS1</text>
<defs><filter id="bl1" x="-20%" y="-50%" width="140%" height="200%"><feGaussianBlur stdDeviation="0.9"/></filter><filter id="bl4" x="-20%" y="-100%" width="140%" height="300%"><feGaussianBlur stdDeviation="0.7 0.6"/></filter><linearGradient id="png" x1="0" x2="0" y1="0" y2="1"><stop offset="0" stop-color="#efbcd1"/><stop offset="0.45" stop-color="#eab6cc"/><stop offset="1" stop-color="#e5b2c8"/></linearGradient><filter id="bl2" x="-20%" y="-50%" width="140%" height="200%"><feGaussianBlur stdDeviation="0.6"/></filter><filter id="bl3" x="-50%" y="-100%" width="200%" height="300%"><feGaussianBlur stdDeviation="1.0 0.8"/></filter><linearGradient id="ilg" x1="0" x2="1" y1="0" y2="0"><stop offset="0" stop-color="#85857f"/><stop offset="0.15" stop-color="#9b9b95"/><stop offset="0.32" stop-color="#b3b3ac"/><stop offset="0.47" stop-color="#c6c6bf"/><stop offset="0.6" stop-color="#c2c2ba"/><stop offset="0.78" stop-color="#adada5"/><stop offset="1" stop-color="#a6a69e"/></linearGradient><linearGradient id="ilv" x1="0" x2="0" y1="0" y2="1"><stop offset="0" stop-color="#000" stop-opacity="0.22"/><stop offset="0.35" stop-color="#000" stop-opacity="0"/><stop offset="1" stop-color="#fff" stop-opacity="0.05"/></linearGradient></defs>
<rect x="43.2" y="232.3" width="29.2" height="56.3" fill="#cfcfcf" stroke="#3a3a3a" stroke-width="0.9"/>
<rect x="43.2" y="291.5" width="29.2" height="18.6" fill="#cdcdcd" stroke="#3a3a3a" stroke-width="0.9"/>
<ellipse cx="64.3" cy="240.6" rx="4.6" ry="1.9" fill="#333" filter="url(#bl3)"/>
<ellipse cx="50.9" cy="301.8" rx="4.9" ry="1.7" fill="#333" filter="url(#bl3)"/>
<ellipse cx="64.0" cy="301.8" rx="4.9" ry="1.7" fill="#333" filter="url(#bl3)"/>
<text x="39.6" y="244.5" font-size="8.6" text-anchor="end" fill="#111" font-weight="normal" textLength="32.6" lengthAdjust="spacingAndGlyphs" >Pro-IL-1β</text>
<text x="39.6" y="304.5" font-size="8.6" text-anchor="end" fill="#111" font-weight="normal" textLength="24.2" lengthAdjust="spacingAndGlyphs" >β-actin</text>
<path d="M74.6 256.8H78.8M74.6 275.7H78.8" stroke="#222" stroke-width="1"/>
<text x="82.4" y="259.9" font-size="8.6" text-anchor="start" fill="#111" font-weight="normal" >25</text>
<text x="82.4" y="278.8" font-size="8.6" text-anchor="start" fill="#111" font-weight="normal" >20</text>
<text x="108.6" y="190.6" font-size="11.8" font-weight="bold" fill="#000" style="stroke:#000;stroke-width:0.35px">F</text>
<text x="169.5" y="201.9" font-size="8.6" text-anchor="middle" fill="#111" font-weight="normal" textLength="43.6" lengthAdjust="spacingAndGlyphs" >Supernatant</text>
<text transform="translate(151.0 220.3) rotate(-45)" font-size="8.6" text-anchor="end" fill="#111">Unst</text>
<text transform="translate(165.6 222.2) rotate(-45)" font-size="8.6" text-anchor="end" fill="#111">NS1</text>
<text transform="translate(183.0 222.6) rotate(-45)" font-size="8.6" text-anchor="end" fill="#111">ATP</text>
<text transform="translate(217.6 204.6) rotate(-45)" font-size="8.6" text-anchor="end" fill="#111">NS1+ATP</text>
<rect x="129.7" y="235.7" width="74" height="12.6" fill="url(#ilg)" stroke="#2a2a2a" stroke-width="0.9"/>
<rect x="129.7" y="235.7" width="74" height="12.6" fill="url(#ilv)"/>
<path d="M175 236.4L184 238.0L189 240.0L186 241.0L179 239.4Z" fill="#7a7a74" filter="url(#bl3)"/>
<ellipse cx="194.3" cy="241.3" rx="6.8" ry="1.9" fill="#2a2a2a" filter="url(#bl3)"/>
<ellipse cx="191.6" cy="245.0" rx="1.8" ry="1.2" fill="#d0d0c8" filter="url(#bl3)"/>
<ellipse cx="158.5" cy="241.4" rx="3" ry="1" fill="#7a7a76" filter="url(#bl3)"/>
<rect x="129.7" y="235.7" width="74" height="12.6" fill="none" stroke="#222" stroke-width="0.9"/>
<text x="126.4" y="246.6" font-size="8.6" text-anchor="end" fill="#111" font-weight="normal" textLength="18.3" lengthAdjust="spacingAndGlyphs" >IL-1β</text>
<rect x="129.7" y="251.6" width="74.2" height="59" fill="url(#png)" stroke="#5a4a52" stroke-width="0.9"/>
<rect x="131.3" y="267.0" width="15.199999999999989" height="2.6" fill="#e184aa" filter="url(#bl4)"/>
<rect x="131.3" y="272.6" width="15.199999999999989" height="1.4" fill="#e8a2be" filter="url(#bl4)"/>
<rect x="131.3" y="278.9" width="15.199999999999989" height="1.4" fill="#e8a2be" filter="url(#bl4)"/>
<rect x="149.8" y="267.0" width="14.199999999999989" height="2.6" fill="#e184aa" filter="url(#bl4)"/>
<rect x="149.8" y="272.6" width="14.199999999999989" height="1.4" fill="#e8a2be" filter="url(#bl4)"/>
<rect x="149.8" y="278.9" width="14.199999999999989" height="1.4" fill="#e8a2be" filter="url(#bl4)"/>
<rect x="167.3" y="266.7" width="14.399999999999977" height="2.6" fill="#e184aa" filter="url(#bl4)"/>
<rect x="167.3" y="272.6" width="14.399999999999977" height="1.4" fill="#e8a2be" filter="url(#bl4)"/>
<rect x="167.3" y="278.9" width="14.399999999999977" height="1.4" fill="#e8a2be" filter="url(#bl4)"/>
<path d="M184.2 267.6L196.5 267.0L201.5 265.4V267.8L196.5 269.4L184.2 270.0Z" fill="#e184aa" filter="url(#bl4)"/>
<path d="M184.2 273.0L201.5 271.8V273.0L184.2 274.2Z" fill="#e8a2be" filter="url(#bl4)"/>
<path d="M184.2 279.0L201.5 277.6V279.0L184.2 280.4Z" fill="#e69bba" filter="url(#bl4)"/>
<rect x="167.3" y="277.0" width="14.4" height="3.4" fill="#d95e95" filter="url(#bl4)"/>
<rect x="167.3" y="266.5" width="14.4" height="3.0" fill="#dd6a99" filter="url(#bl4)"/>
<text transform="translate(122.6 282.7) rotate(-90)" font-size="8.6" text-anchor="middle" fill="#111" textLength="38.6" lengthAdjust="spacingAndGlyphs">Ponceau-S</text>
<path d="M208.1 237.8H212.3" stroke="#222" stroke-width="1"/>
<text x="216.2" y="240.8" font-size="8.6" text-anchor="start" fill="#111" font-weight="normal" >20</text>
<path d="M208.1 263.9H212.3" stroke="#222" stroke-width="1"/>
<text x="216.2" y="266.9" font-size="8.6" text-anchor="start" fill="#111" font-weight="normal" >75</text>
<path d="M208.1 275.0H212.3" stroke="#222" stroke-width="1"/>
<text x="216.2" y="278.0" font-size="8.6" text-anchor="start" fill="#111" font-weight="normal" >50</text>
<path d="M208.1 286.5H212.3" stroke="#222" stroke-width="1"/>
<text x="216.2" y="289.5" font-size="8.6" text-anchor="start" fill="#111" font-weight="normal" >37</text>
<path d="M208.1 304.5H212.3" stroke="#222" stroke-width="1"/>
<text x="216.2" y="307.5" font-size="8.6" text-anchor="start" fill="#111" font-weight="normal" >25</text>
<path d="M334.90000000000003 477.2H338.3" stroke="#111" stroke-width="1"/>
<text x="331.7" y="479.5" font-size="8.3" text-anchor="end" fill="#111">0</text>
<path d="M334.90000000000003 460.5H338.3" stroke="#111" stroke-width="1"/>
<text x="331.7" y="462.8" font-size="8.3" text-anchor="end" fill="#111">100</text>
<path d="M334.90000000000003 443.2H338.3" stroke="#111" stroke-width="1"/>
<text x="331.7" y="445.5" font-size="8.3" text-anchor="end" fill="#111">200</text>
<path d="M334.90000000000003 425.9H338.3" stroke="#111" stroke-width="1"/>
<text x="331.7" y="428.2" font-size="8.3" text-anchor="end" fill="#111">300</text>
<path d="M334.90000000000003 408.4H338.3" stroke="#111" stroke-width="1"/>
<text x="331.7" y="410.7" font-size="8.3" text-anchor="end" fill="#111">400</text>
<path d="M336.3 477.20H338.3" stroke="#111" stroke-width="0.9"/>
<path d="M336.3 473.02H338.3" stroke="#111" stroke-width="0.9"/>
<path d="M336.3 468.85H338.3" stroke="#111" stroke-width="0.9"/>
<path d="M336.3 464.67H338.3" stroke="#111" stroke-width="0.9"/>
<path d="M336.3 460.50H338.3" stroke="#111" stroke-width="0.9"/>
<path d="M336.3 456.32H338.3" stroke="#111" stroke-width="0.9"/>
<path d="M336.3 452.15H338.3" stroke="#111" stroke-width="0.9"/>
<path d="M336.3 447.97H338.3" stroke="#111" stroke-width="0.9"/>
<path d="M336.3 443.80H338.3" stroke="#111" stroke-width="0.9"/>
<path d="M336.3 439.62H338.3" stroke="#111" stroke-width="0.9"/>
<path d="M336.3 435.45H338.3" stroke="#111" stroke-width="0.9"/>
<path d="M336.3 431.27H338.3" stroke="#111" stroke-width="0.9"/>
<path d="M336.3 427.10H338.3" stroke="#111" stroke-width="0.9"/>
<path d="M336.3 422.92H338.3" stroke="#111" stroke-width="0.9"/>
<path d="M336.3 418.75H338.3" stroke="#111" stroke-width="0.9"/>
<path d="M336.3 414.57H338.3" stroke="#111" stroke-width="0.9"/>
<path d="M336.3 410.40H338.3" stroke="#111" stroke-width="0.9"/>
<path d="M338.20 477.3V480.3" stroke="#111" stroke-width="0.8"/>
<path d="M343.45 477.3V478.90000000000003" stroke="#111" stroke-width="0.8"/>
<path d="M346.53 477.3V478.90000000000003" stroke="#111" stroke-width="0.8"/>
<path d="M348.71 477.3V478.90000000000003" stroke="#111" stroke-width="0.8"/>
<path d="M350.40 477.3V478.90000000000003" stroke="#111" stroke-width="0.8"/>
<path d="M351.78 477.3V478.90000000000003" stroke="#111" stroke-width="0.8"/>
<path d="M352.95 477.3V478.90000000000003" stroke="#111" stroke-width="0.8"/>
<path d="M353.96 477.3V478.90000000000003" stroke="#111" stroke-width="0.8"/>
<path d="M354.85 477.3V478.90000000000003" stroke="#111" stroke-width="0.8"/>
<path d="M355.65 477.3V480.3" stroke="#111" stroke-width="0.8"/>
<path d="M360.90 477.3V478.90000000000003" stroke="#111" stroke-width="0.8"/>
<path d="M363.98 477.3V478.90000000000003" stroke="#111" stroke-width="0.8"/>
<path d="M366.16 477.3V478.90000000000003" stroke="#111" stroke-width="0.8"/>
<path d="M367.85 477.3V478.90000000000003" stroke="#111" stroke-width="0.8"/>
<path d="M369.23 477.3V478.90000000000003" stroke="#111" stroke-width="0.8"/>
<path d="M370.40 477.3V478.90000000000003" stroke="#111" stroke-width="0.8"/>
<path d="M371.41 477.3V478.90000000000003" stroke="#111" stroke-width="0.8"/>
<path d="M372.30 477.3V478.90000000000003" stroke="#111" stroke-width="0.8"/>
<path d="M373.10 477.3V480.3" stroke="#111" stroke-width="0.8"/>
<path d="M378.35 477.3V478.90000000000003" stroke="#111" stroke-width="0.8"/>
<path d="M381.43 477.3V478.90000000000003" stroke="#111" stroke-width="0.8"/>
<path d="M383.61 477.3V478.90000000000003" stroke="#111" stroke-width="0.8"/>
<path d="M385.30 477.3V478.90000000000003" stroke="#111" stroke-width="0.8"/>
<path d="M386.68 477.3V478.90000000000003" stroke="#111" stroke-width="0.8"/>
<path d="M387.85 477.3V478.90000000000003" stroke="#111" stroke-width="0.8"/>
<path d="M388.86 477.3V478.90000000000003" stroke="#111" stroke-width="0.8"/>
<path d="M389.75 477.3V478.90000000000003" stroke="#111" stroke-width="0.8"/>
<path d="M390.55 477.3V480.3" stroke="#111" stroke-width="0.8"/>
<path d="M395.80 477.3V478.90000000000003" stroke="#111" stroke-width="0.8"/>
<path d="M398.88 477.3V478.90000000000003" stroke="#111" stroke-width="0.8"/>
<path d="M401.06 477.3V478.90000000000003" stroke="#111" stroke-width="0.8"/>
<path d="M402.75 477.3V478.90000000000003" stroke="#111" stroke-width="0.8"/>
<path d="M404.13 477.3V478.90000000000003" stroke="#111" stroke-width="0.8"/>
<path d="M405.30 477.3V478.90000000000003" stroke="#111" stroke-width="0.8"/>
<path d="M406.31 477.3V478.90000000000003" stroke="#111" stroke-width="0.8"/>
<path d="M407.20 477.3V478.90000000000003" stroke="#111" stroke-width="0.8"/>
<path d="M408.00 477.3V480.3" stroke="#111" stroke-width="0.8"/>
<clipPath id="c338b"><path d="M338.3 477.3L339 466.2L341.1 465.2L343.2 463.1L345.2 460L347.3 456.5L349.3 453.4L351.4 448.8L353.4 443.6L355.5 438.5L357 433.4L358 429.8L359.1 428.8L360.1 431.3L361.6 430.8L362.4 430.3L363.2 436.5L364.2 441.1L365.2 447.7L366.2 454.9L367.5 462.9L369.4 464.8L371.2 464.3L372.6 463.4L374 463.8L375.9 464.8L377.2 467.1L379.1 469.4L380.9 471.7L382.8 472.6L385.1 474.5L387.4 476.3L389.7 477.1L408.2 477.3L408.5 477.3Z"/></clipPath><clipPath id="c338r"><path d="M338.3 477.3L338.5 463.1L340.1 463.1L341.6 461.6L343.2 459.5L344.7 458L346.2 454.9L347.8 453.4L349.3 451.3L350.8 447.7L351.9 441.6L352.4 440L353.2 436L353.9 437L355 436L356 431.3L356.5 428.3L357.5 427.2L358.2 423.1L358.8 425.2L359.4 422.6L360.1 428.3L360.8 423.6L361.4 432.4L362.6 437.5L363.7 443.6L364.7 450.8L365.7 457L367.1 463.8L368.5 465.7L370.3 467.1L371.7 466.6L373.1 466.2L374.5 467.5L375.9 468.9L377.7 470.8L379.5 471.7L381.4 473.5L383.7 474.9L386 476.3L388.8 477.1L392.5 477.3L408.2 477.3L408.5 477.3Z"/></clipPath>
<path d="M338.3 477.3L339 466.2L341.1 465.2L343.2 463.1L345.2 460L347.3 456.5L349.3 453.4L351.4 448.8L353.4 443.6L355.5 438.5L357 433.4L358 429.8L359.1 428.8L360.1 431.3L361.6 430.8L362.4 430.3L363.2 436.5L364.2 441.1L365.2 447.7L366.2 454.9L367.5 462.9L369.4 464.8L371.2 464.3L372.6 463.4L374 463.8L375.9 464.8L377.2 467.1L379.1 469.4L380.9 471.7L382.8 472.6L385.1 474.5L387.4 476.3L389.7 477.1L408.2 477.3L408.5 477.3Z" fill="#a6bbd6"/>
<path d="M338.3 477.3L338.5 463.1L340.1 463.1L341.6 461.6L343.2 459.5L344.7 458L346.2 454.9L347.8 453.4L349.3 451.3L350.8 447.7L351.9 441.6L352.4 440L353.2 436L353.9 437L355 436L356 431.3L356.5 428.3L357.5 427.2L358.2 423.1L358.8 425.2L359.4 422.6L360.1 428.3L360.8 423.6L361.4 432.4L362.6 437.5L363.7 443.6L364.7 450.8L365.7 457L367.1 463.8L368.5 465.7L370.3 467.1L371.7 466.6L373.1 466.2L374.5 467.5L375.9 468.9L377.7 470.8L379.5 471.7L381.4 473.5L383.7 474.9L386 476.3L388.8 477.1L392.5 477.3L408.2 477.3L408.5 477.3Z" fill="#d98ba4"/>
<path d="M338.3 477.3L338.5 463.1L340.1 463.1L341.6 461.6L343.2 459.5L344.7 458L346.2 454.9L347.8 453.4L349.3 451.3L350.8 447.7L351.9 441.6L352.4 440L353.2 436L353.9 437L355 436L356 431.3L356.5 428.3L357.5 427.2L358.2 423.1L358.8 425.2L359.4 422.6L360.1 428.3L360.8 423.6L361.4 432.4L362.6 437.5L363.7 443.6L364.7 450.8L365.7 457L367.1 463.8L368.5 465.7L370.3 467.1L371.7 466.6L373.1 466.2L374.5 467.5L375.9 468.9L377.7 470.8L379.5 471.7L381.4 473.5L383.7 474.9L386 476.3L388.8 477.1L392.5 477.3L408.2 477.3L408.5 477.3Z" fill="#9c5672" clip-path="url(#c338b)"/>
<path d="M339 466.2L341.1 465.2L343.2 463.1L345.2 460L347.3 456.5L349.3 453.4L351.4 448.8L353.4 443.6L355.5 438.5L357 433.4L358 429.8L359.1 428.8L360.1 431.3L361.6 430.8L362.4 430.3L363.2 436.5L364.2 441.1L365.2 447.7L366.2 454.9L367.5 462.9L369.4 464.8L371.2 464.3L372.6 463.4L374 463.8L375.9 464.8L377.2 467.1L379.1 469.4L380.9 471.7L382.8 472.6L385.1 474.5L387.4 476.3L389.7 477.1L408.2 477.3" fill="none" stroke="#2b4d8e" stroke-width="1"/>
<path d="M339 466.2L341.1 465.2L343.2 463.1L345.2 460L347.3 456.5L349.3 453.4L351.4 448.8L353.4 443.6L355.5 438.5L357 433.4L358 429.8L359.1 428.8L360.1 431.3L361.6 430.8L362.4 430.3L363.2 436.5L364.2 441.1L365.2 447.7L366.2 454.9L367.5 462.9L369.4 464.8L371.2 464.3L372.6 463.4L374 463.8L375.9 464.8L377.2 467.1L379.1 469.4L380.9 471.7L382.8 472.6L385.1 474.5L387.4 476.3L389.7 477.1L408.2 477.3" fill="none" stroke="#6a3566" stroke-width="1" clip-path="url(#c338r)"/>
<path d="M338.5 463.1L340.1 463.1L341.6 461.6L343.2 459.5L344.7 458L346.2 454.9L347.8 453.4L349.3 451.3L350.8 447.7L351.9 441.6L352.4 440L353.2 436L353.9 437L355 436L356 431.3L356.5 428.3L357.5 427.2L358.2 423.1L358.8 425.2L359.4 422.6L360.1 428.3L360.8 423.6L361.4 432.4L362.6 437.5L363.7 443.6L364.7 450.8L365.7 457L367.1 463.8L368.5 465.7L370.3 467.1L371.7 466.6L373.1 466.2L374.5 467.5L375.9 468.9L377.7 470.8L379.5 471.7L381.4 473.5L383.7 474.9L386 476.3L388.8 477.1L392.5 477.3L408.2 477.3" fill="none" stroke="#b5123c" stroke-width="1"/>
<path d="M338.3 407.5H408.5V477.3" fill="none" stroke="#111" stroke-width="1"/>
<path d="M338.3 477.3H408.5" stroke="#b5123c" stroke-width="1"/>
<path d="M338.3 477.3V408.0" stroke="#b5123c" stroke-width="1.4"/>
<text x="332.8" y="491.0" font-size="8.3" fill="#111" textLength="7.8" lengthAdjust="spacingAndGlyphs">10</text>
<text x="341.5" y="488.4" font-size="5.6" fill="#111" style="stroke-width:0.12px">0</text>
<text x="350.25" y="491.0" font-size="8.3" fill="#111" textLength="7.8" lengthAdjust="spacingAndGlyphs">10</text>
<text x="358.95" y="488.4" font-size="5.6" fill="#111" style="stroke-width:0.12px">1</text>
<text x="367.7" y="491.0" font-size="8.3" fill="#111" textLength="7.8" lengthAdjust="spacingAndGlyphs">10</text>
<text x="376.4" y="488.4" font-size="5.6" fill="#111" style="stroke-width:0.12px">2</text>
<text x="385.15" y="491.0" font-size="8.3" fill="#111" textLength="7.8" lengthAdjust="spacingAndGlyphs">10</text>
<text x="393.84999999999997" y="488.4" font-size="5.6" fill="#111" style="stroke-width:0.12px">3</text>
<text x="402.6" y="491.0" font-size="8.3" fill="#111" textLength="7.8" lengthAdjust="spacingAndGlyphs">10</text>
<text x="411.3" y="488.4" font-size="5.6" fill="#111" style="stroke-width:0.12px">4</text>
<path d="M431.1 477.5H434.5" stroke="#111" stroke-width="1"/>
<text x="427.5" y="479.8" font-size="8.3" text-anchor="end" fill="#111">0</text>
<path d="M431.1 461.0H434.5" stroke="#111" stroke-width="1"/>
<text x="427.5" y="463.3" font-size="8.3" text-anchor="end" fill="#111">100</text>
<path d="M431.1 444.7H434.5" stroke="#111" stroke-width="1"/>
<text x="427.5" y="447.0" font-size="8.3" text-anchor="end" fill="#111">200</text>
<path d="M431.1 428.1H434.5" stroke="#111" stroke-width="1"/>
<text x="427.5" y="430.40000000000003" font-size="8.3" text-anchor="end" fill="#111">300</text>
<path d="M431.1 411.7H434.5" stroke="#111" stroke-width="1"/>
<text x="427.5" y="414.0" font-size="8.3" text-anchor="end" fill="#111">400</text>
<path d="M432.5 477.50H434.5" stroke="#111" stroke-width="0.9"/>
<path d="M432.5 473.38H434.5" stroke="#111" stroke-width="0.9"/>
<path d="M432.5 469.25H434.5" stroke="#111" stroke-width="0.9"/>
<path d="M432.5 465.12H434.5" stroke="#111" stroke-width="0.9"/>
<path d="M432.5 461.00H434.5" stroke="#111" stroke-width="0.9"/>
<path d="M432.5 456.88H434.5" stroke="#111" stroke-width="0.9"/>
<path d="M432.5 452.75H434.5" stroke="#111" stroke-width="0.9"/>
<path d="M432.5 448.62H434.5" stroke="#111" stroke-width="0.9"/>
<path d="M432.5 444.50H434.5" stroke="#111" stroke-width="0.9"/>
<path d="M432.5 440.38H434.5" stroke="#111" stroke-width="0.9"/>
<path d="M432.5 436.25H434.5" stroke="#111" stroke-width="0.9"/>
<path d="M432.5 432.12H434.5" stroke="#111" stroke-width="0.9"/>
<path d="M432.5 428.00H434.5" stroke="#111" stroke-width="0.9"/>
<path d="M432.5 423.88H434.5" stroke="#111" stroke-width="0.9"/>
<path d="M432.5 419.75H434.5" stroke="#111" stroke-width="0.9"/>
<path d="M432.5 415.62H434.5" stroke="#111" stroke-width="0.9"/>
<path d="M432.5 411.50H434.5" stroke="#111" stroke-width="0.9"/>
<path d="M434.40 477.6V480.6" stroke="#111" stroke-width="0.8"/>
<path d="M439.65 477.6V479.20000000000005" stroke="#111" stroke-width="0.8"/>
<path d="M442.73 477.6V479.20000000000005" stroke="#111" stroke-width="0.8"/>
<path d="M444.91 477.6V479.20000000000005" stroke="#111" stroke-width="0.8"/>
<path d="M446.60 477.6V479.20000000000005" stroke="#111" stroke-width="0.8"/>
<path d="M447.98 477.6V479.20000000000005" stroke="#111" stroke-width="0.8"/>
<path d="M449.15 477.6V479.20000000000005" stroke="#111" stroke-width="0.8"/>
<path d="M450.16 477.6V479.20000000000005" stroke="#111" stroke-width="0.8"/>
<path d="M451.05 477.6V479.20000000000005" stroke="#111" stroke-width="0.8"/>
<path d="M451.85 477.6V480.6" stroke="#111" stroke-width="0.8"/>
<path d="M457.10 477.6V479.20000000000005" stroke="#111" stroke-width="0.8"/>
<path d="M460.18 477.6V479.20000000000005" stroke="#111" stroke-width="0.8"/>
<path d="M462.36 477.6V479.20000000000005" stroke="#111" stroke-width="0.8"/>
<path d="M464.05 477.6V479.20000000000005" stroke="#111" stroke-width="0.8"/>
<path d="M465.43 477.6V479.20000000000005" stroke="#111" stroke-width="0.8"/>
<path d="M466.60 477.6V479.20000000000005" stroke="#111" stroke-width="0.8"/>
<path d="M467.61 477.6V479.20000000000005" stroke="#111" stroke-width="0.8"/>
<path d="M468.50 477.6V479.20000000000005" stroke="#111" stroke-width="0.8"/>
<path d="M469.30 477.6V480.6" stroke="#111" stroke-width="0.8"/>
<path d="M474.55 477.6V479.20000000000005" stroke="#111" stroke-width="0.8"/>
<path d="M477.63 477.6V479.20000000000005" stroke="#111" stroke-width="0.8"/>
<path d="M479.81 477.6V479.20000000000005" stroke="#111" stroke-width="0.8"/>
<path d="M481.50 477.6V479.20000000000005" stroke="#111" stroke-width="0.8"/>
<path d="M482.88 477.6V479.20000000000005" stroke="#111" stroke-width="0.8"/>
<path d="M484.05 477.6V479.20000000000005" stroke="#111" stroke-width="0.8"/>
<path d="M485.06 477.6V479.20000000000005" stroke="#111" stroke-width="0.8"/>
<path d="M485.95 477.6V479.20000000000005" stroke="#111" stroke-width="0.8"/>
<path d="M486.75 477.6V480.6" stroke="#111" stroke-width="0.8"/>
<path d="M492.00 477.6V479.20000000000005" stroke="#111" stroke-width="0.8"/>
<path d="M495.08 477.6V479.20000000000005" stroke="#111" stroke-width="0.8"/>
<path d="M497.26 477.6V479.20000000000005" stroke="#111" stroke-width="0.8"/>
<path d="M498.95 477.6V479.20000000000005" stroke="#111" stroke-width="0.8"/>
<path d="M500.33 477.6V479.20000000000005" stroke="#111" stroke-width="0.8"/>
<path d="M501.50 477.6V479.20000000000005" stroke="#111" stroke-width="0.8"/>
<path d="M502.51 477.6V479.20000000000005" stroke="#111" stroke-width="0.8"/>
<path d="M503.40 477.6V479.20000000000005" stroke="#111" stroke-width="0.8"/>
<path d="M504.20 477.6V480.6" stroke="#111" stroke-width="0.8"/>
<clipPath id="c434b"><path d="M434.5 477.6L435.1 463.1L436.6 460.1L438.6 458L440.7 454.4L442.7 451.3L444.3 448.8L445.8 445.7L447.4 440.6L448.9 434.4L449.9 431.8L450.9 430.3L452 427.2L453 424.7L453.8 425.7L454.5 428.3L455.6 433.4L456.6 440.6L457.6 447.7L458.6 454.9L459.4 462.1L460.2 468.3L460.8 472.1L462.3 474.5L464.7 475.2L469.5 475.5L475.2 475.8L479.1 476.4L482.9 477.4L504.3 477.6L504.5 477.6Z"/></clipPath><clipPath id="c434r"><path d="M434.5 477.6L435.1 465.2L436.6 463.6L438.1 461.6L440.2 459L442.2 456.5L444.3 453.4L445.8 450.8L446.8 447.7L447.9 443.6L448.9 439.5L449.9 437.5L450.9 434.4L452.5 433.4L453.5 432.4L454.5 430.3L455.1 425.7L455.8 431.8L456.6 437.5L457.6 442.6L458.6 448.8L459.8 457.7L461.3 463.5L463.2 467.8L465.1 468.3L467.1 468.5L469 468.1L470.4 468.8L471.9 469.7L473.3 470.7L474.5 470.2L475.2 471.6L476.7 473.6L478.6 475.2L480.5 476.4L482.9 477.2L486.8 477.6L504.3 477.6L504.5 477.6Z"/></clipPath>
<path d="M434.5 477.6L435.1 463.1L436.6 460.1L438.6 458L440.7 454.4L442.7 451.3L444.3 448.8L445.8 445.7L447.4 440.6L448.9 434.4L449.9 431.8L450.9 430.3L452 427.2L453 424.7L453.8 425.7L454.5 428.3L455.6 433.4L456.6 440.6L457.6 447.7L458.6 454.9L459.4 462.1L460.2 468.3L460.8 472.1L462.3 474.5L464.7 475.2L469.5 475.5L475.2 475.8L479.1 476.4L482.9 477.4L504.3 477.6L504.5 477.6Z" fill="#a6bbd6"/>
<path d="M434.5 477.6L435.1 465.2L436.6 463.6L438.1 461.6L440.2 459L442.2 456.5L444.3 453.4L445.8 450.8L446.8 447.7L447.9 443.6L448.9 439.5L449.9 437.5L450.9 434.4L452.5 433.4L453.5 432.4L454.5 430.3L455.1 425.7L455.8 431.8L456.6 437.5L457.6 442.6L458.6 448.8L459.8 457.7L461.3 463.5L463.2 467.8L465.1 468.3L467.1 468.5L469 468.1L470.4 468.8L471.9 469.7L473.3 470.7L474.5 470.2L475.2 471.6L476.7 473.6L478.6 475.2L480.5 476.4L482.9 477.2L486.8 477.6L504.3 477.6L504.5 477.6Z" fill="#d98ba4"/>
<path d="M434.5 477.6L435.1 465.2L436.6 463.6L438.1 461.6L440.2 459L442.2 456.5L444.3 453.4L445.8 450.8L446.8 447.7L447.9 443.6L448.9 439.5L449.9 437.5L450.9 434.4L452.5 433.4L453.5 432.4L454.5 430.3L455.1 425.7L455.8 431.8L456.6 437.5L457.6 442.6L458.6 448.8L459.8 457.7L461.3 463.5L463.2 467.8L465.1 468.3L467.1 468.5L469 468.1L470.4 468.8L471.9 469.7L473.3 470.7L474.5 470.2L475.2 471.6L476.7 473.6L478.6 475.2L480.5 476.4L482.9 477.2L486.8 477.6L504.3 477.6L504.5 477.6Z" fill="#9c5672" clip-path="url(#c434b)"/>
<path d="M435.1 463.1L436.6 460.1L438.6 458L440.7 454.4L442.7 451.3L444.3 448.8L445.8 445.7L447.4 440.6L448.9 434.4L449.9 431.8L450.9 430.3L452 427.2L453 424.7L453.8 425.7L454.5 428.3L455.6 433.4L456.6 440.6L457.6 447.7L458.6 454.9L459.4 462.1L460.2 468.3L460.8 472.1L462.3 474.5L464.7 475.2L469.5 475.5L475.2 475.8L479.1 476.4L482.9 477.4L504.3 477.6" fill="none" stroke="#2b4d8e" stroke-width="1"/>
<path d="M435.1 463.1L436.6 460.1L438.6 458L440.7 454.4L442.7 451.3L444.3 448.8L445.8 445.7L447.4 440.6L448.9 434.4L449.9 431.8L450.9 430.3L452 427.2L453 424.7L453.8 425.7L454.5 428.3L455.6 433.4L456.6 440.6L457.6 447.7L458.6 454.9L459.4 462.1L460.2 468.3L460.8 472.1L462.3 474.5L464.7 475.2L469.5 475.5L475.2 475.8L479.1 476.4L482.9 477.4L504.3 477.6" fill="none" stroke="#6a3566" stroke-width="1" clip-path="url(#c434r)"/>
<path d="M435.1 465.2L436.6 463.6L438.1 461.6L440.2 459L442.2 456.5L444.3 453.4L445.8 450.8L446.8 447.7L447.9 443.6L448.9 439.5L449.9 437.5L450.9 434.4L452.5 433.4L453.5 432.4L454.5 430.3L455.1 425.7L455.8 431.8L456.6 437.5L457.6 442.6L458.6 448.8L459.8 457.7L461.3 463.5L463.2 467.8L465.1 468.3L467.1 468.5L469 468.1L470.4 468.8L471.9 469.7L473.3 470.7L474.5 470.2L475.2 471.6L476.7 473.6L478.6 475.2L480.5 476.4L482.9 477.2L486.8 477.6L504.3 477.6" fill="none" stroke="#b5123c" stroke-width="1"/>
<path d="M434.5 408.5H504.5V477.6" fill="none" stroke="#111" stroke-width="1"/>
<path d="M434.5 477.6H504.5" stroke="#b5123c" stroke-width="1"/>
<path d="M434.5 477.6V408.5" stroke="#222" stroke-width="0.9"/>
<path d="M435.4 477.6V409.0" stroke="#d04a6a" stroke-width="0.7"/>
<text x="429.0" y="491.0" font-size="8.3" fill="#111" textLength="7.8" lengthAdjust="spacingAndGlyphs">10</text>
<text x="437.7" y="488.4" font-size="5.6" fill="#111" style="stroke-width:0.12px">0</text>
<text x="446.45" y="491.0" font-size="8.3" fill="#111" textLength="7.8" lengthAdjust="spacingAndGlyphs">10</text>
<text x="455.15" y="488.4" font-size="5.6" fill="#111" style="stroke-width:0.12px">1</text>
<text x="463.9" y="491.0" font-size="8.3" fill="#111" textLength="7.8" lengthAdjust="spacingAndGlyphs">10</text>
<text x="472.59999999999997" y="488.4" font-size="5.6" fill="#111" style="stroke-width:0.12px">2</text>
<text x="481.35" y="491.0" font-size="8.3" fill="#111" textLength="7.8" lengthAdjust="spacingAndGlyphs">10</text>
<text x="490.05" y="488.4" font-size="5.6" fill="#111" style="stroke-width:0.12px">3</text>
<text x="498.8" y="491.0" font-size="8.3" fill="#111" textLength="7.8" lengthAdjust="spacingAndGlyphs">10</text>
<text x="507.5" y="488.4" font-size="5.6" fill="#111" style="stroke-width:0.12px">4</text>
<text x="371.5" y="390.2" font-size="8.4" text-anchor="middle" fill="#b5123c" textLength="50.2" lengthAdjust="spacingAndGlyphs" class="r">Vehicle DENV</text>
<text x="368.7" y="402.4" font-size="8.4" text-anchor="middle" fill="#2b4d8e" textLength="43.4" lengthAdjust="spacingAndGlyphs" class="b">BBG DENV</text>
<text x="469.75" y="390.2" font-size="8.4" text-anchor="middle" fill="#b5123c" textLength="64.5" lengthAdjust="spacingAndGlyphs" class="r">Vehicle NS1+ATP</text>
<text x="466.6" y="402.4" font-size="8.4" text-anchor="middle" fill="#2b4d8e" textLength="58.2" lengthAdjust="spacingAndGlyphs" class="b">BBG NS1+ATP</text>
<text x="352.8" y="501.6" font-size="8.4" font-weight="bold" fill="#111" textLength="32.4" lengthAdjust="spacingAndGlyphs">FAM-YVAD</text>
<path d="M387.7 499.5H500" stroke="#222" stroke-width="1"/>
<path d="M499 497.6L504.8 499.5L499 501.4Z" fill="#222"/>
<rect x="0.5" y="0.5" width="519" height="526" fill="none" stroke="#000" stroke-width="1"/>
</svg>
</body></html>
